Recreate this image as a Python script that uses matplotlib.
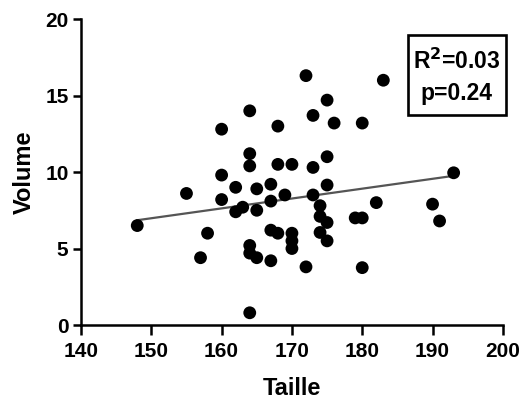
import numpy as np
import matplotlib
matplotlib.use('Agg')
import matplotlib.pyplot as plt
from matplotlib.patches import Rectangle

# Taille (cm) and Volume values
taille = [148, 155, 157, 158, 160, 160, 160, 162, 162, 163,
          164, 164, 164, 164, 164, 164, 165, 165, 165, 167,
          167, 167, 167, 168, 168, 168, 169, 170, 170, 170,
          170, 172, 172, 173, 173, 173, 174, 174, 174, 175,
          175, 175, 175, 175, 176, 179, 180, 180, 180, 182,
          183, 190, 191, 193]
volume = [6.5, 8.6, 4.4, 6.0, 12.8, 9.8, 8.2, 9.0, 7.4, 7.7,
          14.0, 11.2, 10.4, 5.2, 4.7, 0.8, 8.9, 7.5, 4.4, 9.2,
          8.1, 6.2, 4.2, 13.0, 10.5, 6.0, 8.5, 10.5, 6.0, 5.5,
          5.0, 16.3, 3.8, 13.7, 10.3, 8.5, 7.8, 7.1, 6.05, 14.7,
          11.0, 9.15, 6.7, 5.5, 13.2, 7.0, 7.0, 13.2, 3.75, 8.0,
          16.0, 7.9, 6.8, 9.95]

# regression line end points as drawn
fit_x = [148, 193]
fit_y = [6.85, 9.75]

xticks = [140, 150, 160, 170, 180, 190, 200]
yticks = [0, 5, 10, 15, 20]

stats_lines = ['R$^{2}$=0.03', 'p=0.24']

plt.rcParams['font.family'] = ['Liberation Sans', 'DejaVu Sans']
plt.rcParams['font.weight'] = 'bold'
plt.rcParams['mathtext.default'] = 'bf'

fig = plt.figure(figsize=(5.26, 4.05), dpi=100)
ax = fig.add_axes([0.154, 0.1975, 0.802, 0.7555])

ax.plot(fit_x, fit_y, color='#555555', lw=1.6, zorder=2)
ax.scatter(taille, volume, s=85, color='black', edgecolors='none', zorder=3)

ax.set_xlim(140, 200)
ax.set_ylim(0, 20)
ax.set_xticks(xticks)
ax.set_yticks(yticks)
ax.spines['top'].set_visible(False)
ax.spines['right'].set_visible(False)
for side in ['left', 'bottom']:
    ax.spines[side].set_linewidth(1.8)
ax.tick_params(axis='x', length=7, width=1.8, labelsize=15, pad=5)
ax.tick_params(axis='y', length=6, width=1.8, labelsize=15, pad=3)

ax.set_xlabel('Taille', fontsize=17, fontweight='bold', labelpad=12)
ax.set_ylabel('Volume', fontsize=17, fontweight='bold', labelpad=7)

# stats box
ax.add_patch(Rectangle((0.775, 0.686), 0.232, 0.262, transform=ax.transAxes,
                       facecolor='white', edgecolor='black', linewidth=1.9,
                       clip_on=False, zorder=4))
ax.text(0.891, 0.863, stats_lines[0], transform=ax.transAxes, ha='center',
        va='center', fontsize=16.5, fontweight='bold', zorder=5)
ax.text(0.891, 0.758, stats_lines[1], transform=ax.transAxes, ha='center',
        va='center', fontsize=16.5, fontweight='bold', zorder=5)

fig.savefig('out.png', dpi=100)
